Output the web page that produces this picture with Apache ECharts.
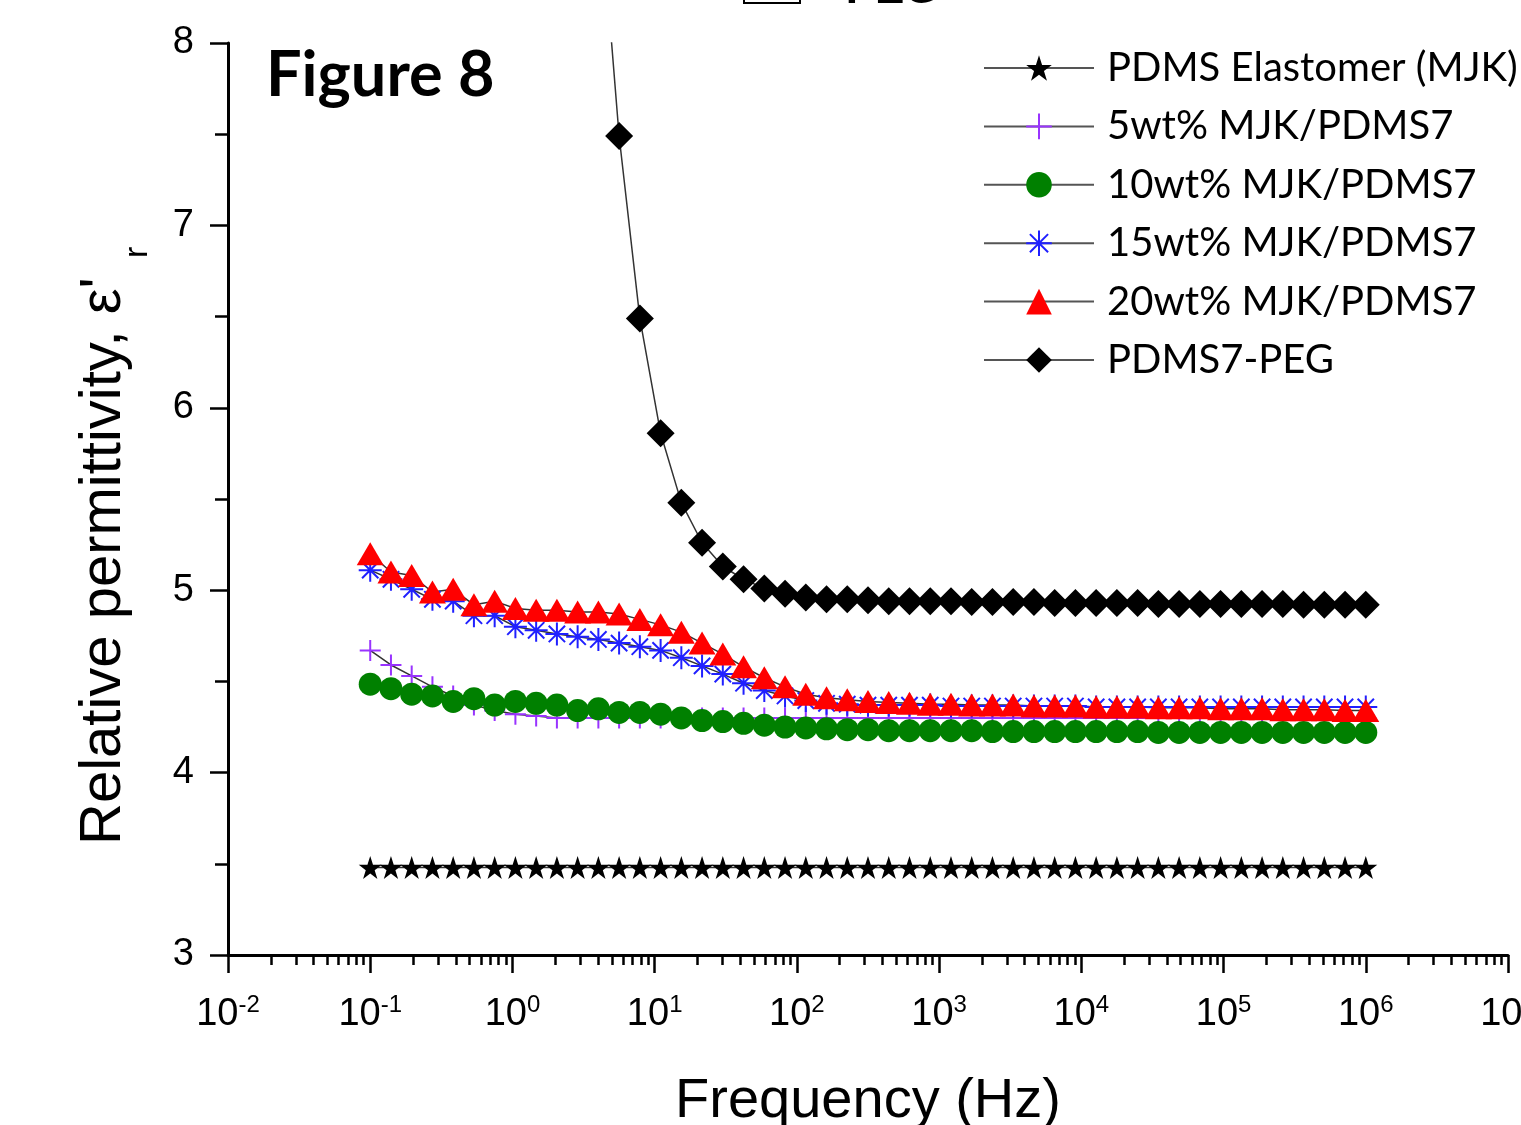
<!DOCTYPE html>
<html lang="en">
    <head>
        <meta charset="UTF-8">
        <title>Figure 8</title>
        <script src="https://cdn.jsdelivr.net/npm/echarts@6.0.0/dist/echarts.min.js"></script>
        <style>
            html, body { margin: 0; padding: 0; background: #fff; }
            #main { width: 1521px; height: 1125px; }
        </style>
    </head>
    <body>
        <div id="main"></div>
        <script>
            // measurement frequencies (Hz), 49 points from 0.1 Hz to 1 MHz
            var freq = [0.1, 0.1399, 0.1957, 0.2738, 0.3831, 0.536, 0.7499, 1.049, 1.468, 2.054,
                2.873, 4.02, 5.623, 7.867, 11.01, 15.4, 21.54, 30.14, 42.17, 59.0,
                82.54, 115.5, 161.6, 226.0, 316.2, 442.4, 619.0, 866.0, 1212, 1695,
                2371, 3318, 4642, 6494, 9085, 12711, 17783, 24880, 34807, 48697,
                68129, 95316, 133352, 186566, 261016, 365174, 510897, 714772, 1000000];

            var elastomer = [3.48, 3.48, 3.48, 3.48, 3.48, 3.48, 3.48, 3.48, 3.48, 3.48,
                3.48, 3.48, 3.48, 3.48, 3.48, 3.48, 3.48, 3.48, 3.48, 3.48,
                3.48, 3.48, 3.48, 3.48, 3.48, 3.48, 3.48, 3.48, 3.48, 3.48,
                3.48, 3.48, 3.48, 3.48, 3.48, 3.48, 3.48, 3.48, 3.48, 3.48,
                3.48, 3.48, 3.48, 3.48, 3.48, 3.48, 3.48, 3.48, 3.48];

            var wt5 = [4.67, 4.59, 4.53, 4.47, 4.42, 4.37, 4.34, 4.32, 4.31, 4.30,
                4.30, 4.30, 4.30, 4.30, 4.30, 4.30, 4.30, 4.30, 4.30, 4.30,
                4.30, 4.30, 4.30, 4.30, 4.30, 4.30, 4.30, 4.30, 4.30, 4.30,
                4.30, 4.30, 4.30, 4.30, 4.30, 4.30, 4.30, 4.30, 4.30, 4.30,
                4.30, 4.30, 4.30, 4.30, 4.30, 4.30, 4.30, 4.30, 4.30];

            var wt10 = [4.485, 4.46, 4.43, 4.42, 4.39, 4.405, 4.37, 4.39, 4.38, 4.37,
                4.34, 4.35, 4.33, 4.33, 4.32, 4.30, 4.285, 4.28, 4.27, 4.26,
                4.25, 4.245, 4.24, 4.235, 4.235, 4.23, 4.23, 4.23, 4.23, 4.23,
                4.225, 4.225, 4.225, 4.225, 4.225, 4.225, 4.225, 4.225, 4.22, 4.22,
                4.22, 4.22, 4.22, 4.22, 4.22, 4.22, 4.22, 4.22, 4.22];

            var wt15 = [5.11, 5.06, 5.005, 4.95, 4.94, 4.86, 4.86, 4.80, 4.78, 4.76,
                4.745, 4.73, 4.71, 4.69, 4.67, 4.63, 4.585, 4.54, 4.49, 4.45,
                4.42, 4.395, 4.38, 4.375, 4.37, 4.37, 4.37, 4.37, 4.365, 4.365,
                4.365, 4.365, 4.365, 4.365, 4.365, 4.36, 4.36, 4.36, 4.36, 4.36,
                4.36, 4.36, 4.36, 4.36, 4.36, 4.36, 4.36, 4.36, 4.36];

            var wt20 = [5.20, 5.10, 5.08, 4.99, 5.005, 4.92, 4.94, 4.90, 4.89, 4.89,
                4.88, 4.88, 4.87, 4.84, 4.81, 4.77, 4.71, 4.65, 4.58, 4.52,
                4.47, 4.43, 4.41, 4.40, 4.39, 4.385, 4.38, 4.375, 4.375, 4.37,
                4.37, 4.37, 4.365, 4.365, 4.365, 4.36, 4.36, 4.36, 4.355, 4.355,
                4.355, 4.35, 4.35, 4.35, 4.345, 4.345, 4.345, 4.34, 4.34];

            var peg = [null, null, null, null, null, null, null, null, null, null,
                null, 8.9, 7.49, 6.49, 5.86, 5.48, 5.26, 5.13, 5.06, 5.01,
                4.98, 4.96, 4.95, 4.95, 4.945, 4.94, 4.94, 4.94, 4.94, 4.935,
                4.935, 4.935, 4.935, 4.93, 4.93, 4.93, 4.93, 4.93, 4.925, 4.925,
                4.925, 4.925, 4.925, 4.925, 4.925, 4.92, 4.92, 4.92, 4.92];

            var names = ['PDMS Elastomer (MJK)', '5wt% MJK/PDMS7', '10wt% MJK/PDMS7',
                '15wt% MJK/PDMS7', '20wt% MJK/PDMS7', 'PDMS7-PEG'];

            var starPath = 'path://M50,2 L61.8,38 L99,38 L69,60 L80.5,96 L50,74 L19.5,96 L31,60 L1,38 L38.2,38 Z';
            var plusPath = 'path://M10,0 L10,20 M0,10 L20,10';
            var asteriskPath = 'path://M10,0 L10,20 M0,10 L20,10 M2.9,2.9 L17.1,17.1 M17.1,2.9 L2.9,17.1';

            function pairs(vals) {
                return freq.map(function (f, i) { return [f, vals[i]]; });
            }

            function makeSeries(name, vals, symbol, size, itemStyle) {
                return {
                    name: name,
                    type: 'line',
                    data: pairs(vals),
                    symbol: symbol,
                    symbolSize: size,
                    itemStyle: itemStyle,
                    lineStyle: { color: '#333', width: 1.5 },
                    clip: true
                };
            }

            var myChart = echarts.init(document.getElementById('main'));
            var option = {
                animation: false,
                backgroundColor: '#fff',
                grid: { left: 228, right: 13, top: 43, bottom: 170, outerBoundsMode: 'none' },
                legend: {
                    orient: 'vertical',
                    left: 978,
                    top: 43,
                    itemWidth: 110,
                    itemHeight: 32,
                    itemGap: 18.4,
                    data: names,
                    lineStyle: { color: '#555', width: 2 },
                    textStyle: { fontFamily: 'Lato', fontSize: 40, color: '#000', lineHeight: 32, padding: [0, 0, 0, 8] }
                },
                xAxis: {
                    type: 'log',
                    logBase: 10,
                    min: 0.01,
                    max: 10000000,
                    splitNumber: 9,
                    axisLine: { lineStyle: { color: '#000', width: 3 } },
                    axisTick: { inside: false, length: 18, lineStyle: { color: '#000', width: 2.5 } },
                    minorTick: { show: true, splitNumber: 9, length: 10, lineStyle: { color: '#000', width: 2.5 } },
                    splitLine: { show: false },
                    axisLabel: {
                        margin: 38,
                        formatter: function (v) {
                            var e = Math.round(Math.log10(v));
                            return '{b|10}{s|' + e + '}';
                        },
                        rich: {
                            b: { fontFamily: 'Liberation Sans', fontSize: 38, color: '#000', lineHeight: 44 },
                            s: { fontFamily: 'Liberation Sans', fontSize: 24, color: '#000', lineHeight: 20, verticalAlign: 'top' }
                        }
                    }
                },
                yAxis: {
                    type: 'value',
                    min: 3,
                    max: 8,
                    interval: 1,
                    axisLine: { show: true, lineStyle: { color: '#000', width: 3 } },
                    axisTick: { show: true, inside: false, length: 18, lineStyle: { color: '#000', width: 2.5 } },
                    minorTick: { show: true, splitNumber: 2, length: 13, lineStyle: { color: '#000', width: 2.5 } },
                    splitLine: { show: false },
                    axisLabel: { margin: 34, fontFamily: 'Liberation Sans', fontSize: 38, color: '#000' }
                },
                graphic: [
                    {
                        type: 'text', left: 266, top: 44,
                        style: { text: 'Figure 8', font: 'bold 63px Lato', fill: '#000' }
                    },
                    // clipped heading at the very top edge
                    {
                        type: 'rect', shape: { x: 744, y: -30, width: 56, height: 33 },
                        style: { fill: 'none', stroke: '#000', lineWidth: 2 }
                    },
                    {
                        type: 'text', x: 820, y: 13,
                        style: { text: '+PEG', font: 'bold 44px "Liberation Sans"', fill: '#000', textAlign: 'left', textVerticalAlign: 'bottom' }
                    },
                    {
                        type: 'text', x: 104, y: 845, rotation: Math.PI / 2,
                        style: { text: "Relative permittivity, \u03B5'", font: '58px "Liberation Sans"', fill: '#000', textAlign: 'left', textVerticalAlign: 'middle' }
                    },
                    {
                        type: 'text', x: 138, y: 258, rotation: Math.PI / 2,
                        style: { text: 'r', font: '34px "Liberation Sans"', fill: '#000', textAlign: 'left', textVerticalAlign: 'middle' }
                    },
                    {
                        type: 'text', x: 868, y: 1102,
                        style: { text: 'Frequency (Hz)', font: '56px "Liberation Sans"', fill: '#000', textAlign: 'center', textVerticalAlign: 'middle' }
                    }
                ],
                series: [
                    makeSeries(names[0], elastomer, starPath, 23, { color: '#000' }),
                    makeSeries(names[1], wt5, plusPath, 21, { color: '#9933ff', borderColor: '#9933ff', borderWidth: 2 }),
                    makeSeries(names[2], wt10, 'circle', 23, { color: '#008000' }),
                    makeSeries(names[3], wt15, asteriskPath, 23, { color: '#2020ff', borderColor: '#2020ff', borderWidth: 2 }),
                    makeSeries(names[4], wt20, 'triangle', [27, 23], { color: '#ff0000' }),
                    makeSeries(names[5], peg, 'diamond', 28, { color: '#000' })
                ]
            };
            myChart.setOption(option);
        </script>
    </body>
</html>
